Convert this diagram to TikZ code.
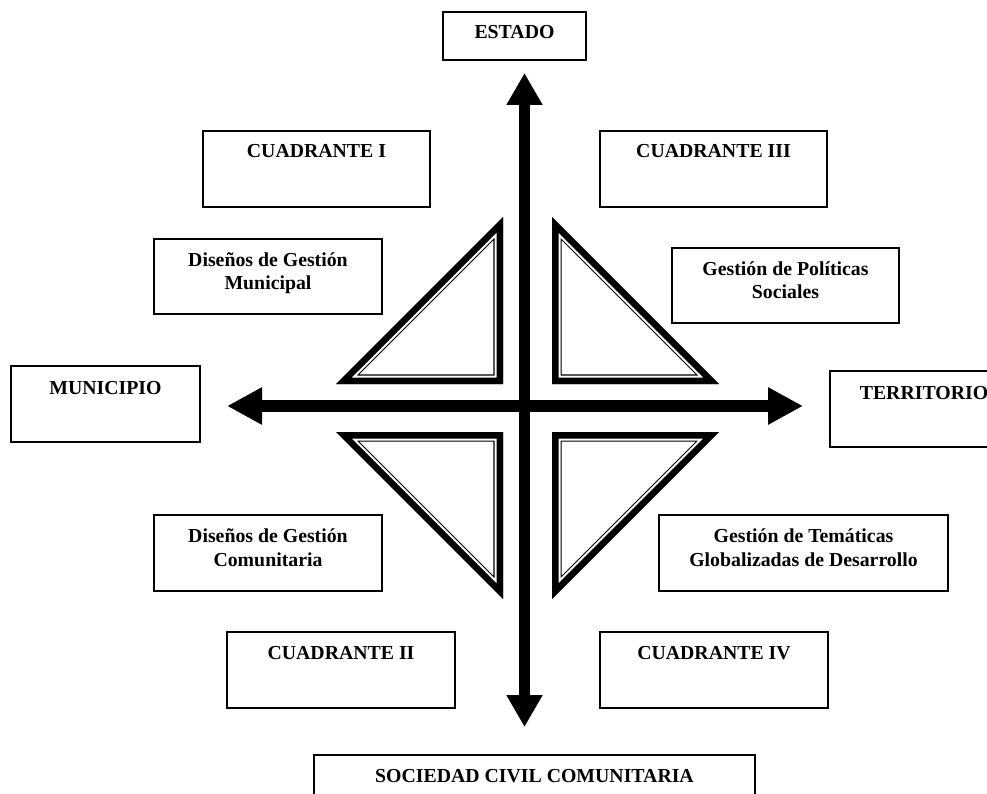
\documentclass[tikz,border=0pt]{standalone}
\usepackage{fontspec}
\setmainfont{Liberation Serif}
\usetikzlibrary{arrows.meta}
\tikzset{
  boxst/.style={draw=black, line width=1.4pt, rectangle, inner sep=0pt, outer sep=0pt},
  lab/.style={anchor=base, inner sep=0pt, font=\bfseries\fontsize{19.8}{23.5}\selectfont},
  vaxis/.style={line width=11.5pt, {Triangle[length=32pt,width=34pt]}-{Triangle[length=32pt,width=34pt]}},
  haxis/.style={line width=12pt, {Triangle[length=35pt,width=35pt]}-{Triangle[length=35pt,width=35pt]}},
}
\newcommand\mkbox[5]{%
  \node[boxst, minimum width={#4-#2}, minimum height={#5-#3}] (#1) at ({(#2+#4)/2},{(#3+#5)/2}) {};}
\newcommand\dtri[3]{%
  \begin{scope}
    \clip #1--#2--#3--cycle;
    \draw[black, line width=19.4pt, line join=miter] #1--#2--#3--cycle;
    \draw[white, line width=17pt, line join=miter] #1--#2--#3--cycle;
    \draw[black, line width=13pt, line join=miter] #1--#2--#3--cycle;
  \end{scope}}
\begin{document}
\begin{tikzpicture}[x=1pt,y=-1pt]
  \path[use as bounding box] (0,0) rectangle (987,794);
  \clip (0,0) rectangle (987,794);

  % boxes
  \mkbox{estado}{443}{12}{586}{60}
  \mkbox{cI}{203}{131}{430}{207}
  \mkbox{cIII}{600}{131}{827}{207}
  \mkbox{dgm}{154}{239}{382}{314}
  \mkbox{gps}{672}{248}{899}{323}
  \mkbox{mun}{11}{366}{200}{442}
  \mkbox{ter}{830}{371}{1018}{447}
  \mkbox{dgc}{154}{515}{382}{591}
  \mkbox{gtg}{659}{515}{948}{591}
  \mkbox{cII}{227}{632}{455}{708}
  \mkbox{cIV}{600}{632}{828}{708}
  \mkbox{soc}{314}{755}{755}{830}

  % labels
  \node[lab] (estadoT) at ([yshift=-27pt]estado.north) {ESTADO};
  \node[lab] (cIT) at ([yshift=-27pt]cI.north) {CUADRANTE I};
  \node[lab] (cIIIT) at ([yshift=-27pt]cIII.north) {CUADRANTE III};
  \node[lab] (dgmT1) at ([yshift=-27pt]dgm.north) {Diseños de Gestión};
  \node[lab] (dgmT2) at ([yshift=-50.5pt]dgm.north) {Municipal};
  \node[lab] (gpsT1) at ([yshift=-27pt]gps.north) {Gestión de Políticas};
  \node[lab] (gpsT2) at ([yshift=-50.5pt]gps.north) {Sociales};
  \node[lab] (munT) at ([yshift=-28pt]mun.north) {MUNICIPIO};
  \node[lab] (terT) at ([yshift=-28pt]ter.north) {TERRITORIO};
  \node[lab] (dgcT1) at ([yshift=-27pt]dgc.north) {Diseños de Gestión};
  \node[lab] (dgcT2) at ([yshift=-51pt]dgc.north) {Comunitaria};
  \node[lab] (gtgT1) at ([yshift=-27pt]gtg.north) {Gestión de Temáticas};
  \node[lab] (gtgT2) at ([yshift=-51pt]gtg.north) {Globalizadas de Desarrollo};
  \node[lab] (cIIT) at ([yshift=-27pt]cII.north) {CUADRANTE II};
  \node[lab] (cIVT) at ([yshift=-27pt]cIV.north) {CUADRANTE IV};
  \node[lab] (socT) at ([yshift=-27pt]soc.north) {SOCIEDAD CIVIL COMUNITARIA};

  % triangles
  \dtri{(503,217)}{(503,384)}{(336,384)}
  \dtri{(552,217)}{(552,384)}{(719,384)}
  \dtri{(336,432)}{(503,432)}{(503,599)}
  \dtri{(552,432)}{(719,432)}{(552,599)}

  % axes
  \coordinate (vtop) at (524.5,73);
  \coordinate (vbot) at (524.5,727);
  \coordinate (hleft) at (227,406);
  \coordinate (hright) at (803,406);
  \draw[haxis] (hleft) -- (hright);
  \draw[vaxis] (vtop) -- (vbot);
\end{tikzpicture}
\end{document}
